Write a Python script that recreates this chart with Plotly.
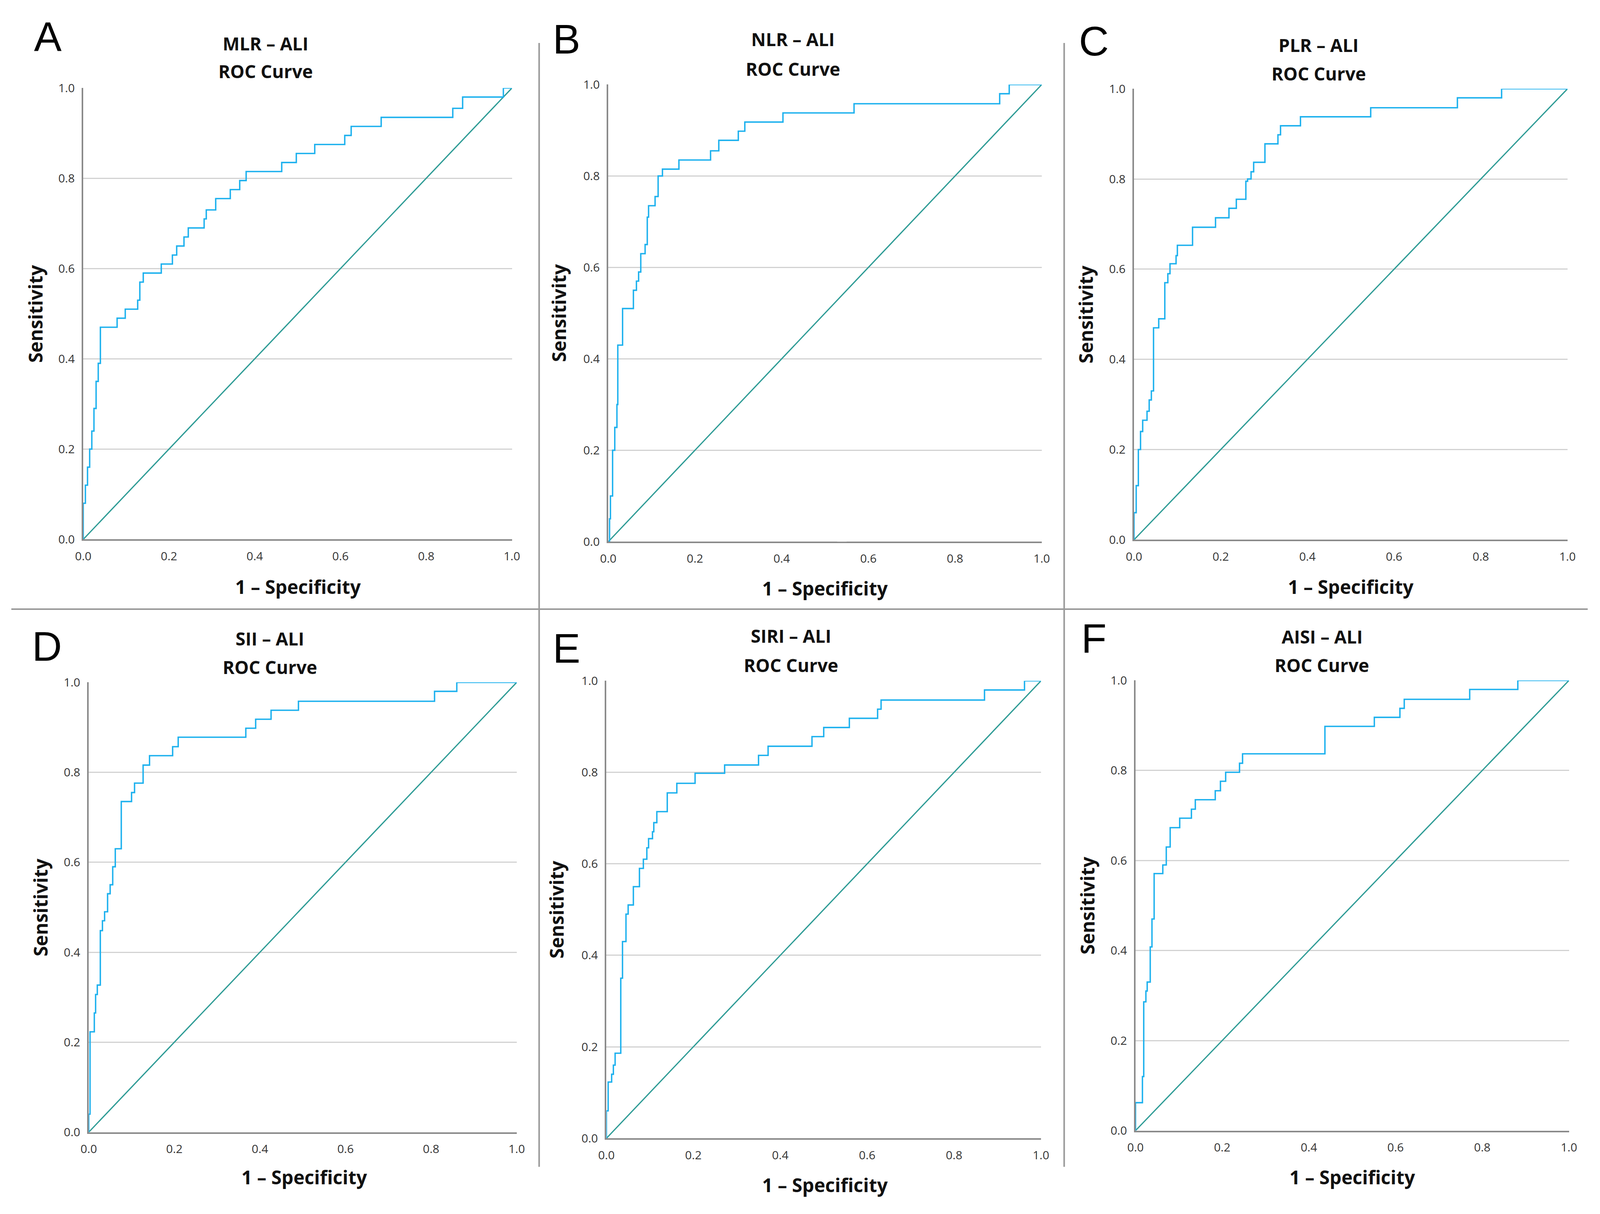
import plotly.graph_objects as go

# reference frame (pixels of the reference picture)
REF_W, REF_H = 4307, 3107
# the page is captured in a viewport about 4096 px wide; keep the figure inside it
VIEW_W = 4096
BODY = 8
W, H = VIEW_W - 2 * BODY, REF_H - 2 * BODY

# ---------------- data ----------------
titles = ["MLR – ALI", "NLR – ALI", "PLR – ALI", "SII – ALI", "SIRI – ALI", "AISI – ALI"]
letters = ["A", "B", "C", "D", "E", "F"]
subtitle = "ROC Curve"
x_title = "1 – Specificity"
y_title = "Sensitivity"
tick_vals = [0.0, 0.2, 0.4, 0.6, 0.8, 1.0]
diag_x = [0.0, 1.0]
diag_y = [0.0, 1.0]

fpr_mlr = [0, 0, 0.005, 0.01, 0.015, 0.02, 0.025, 0.03, 0.035, 0.04, 0.079, 0.098, 0.127, 0.132, 0.14,
           0.182, 0.208, 0.218, 0.235, 0.245, 0.282, 0.287, 0.309, 0.343, 0.365, 0.38, 0.463, 0.497,
           0.54, 0.61, 0.625, 0.695, 0.862, 0.885, 0.98, 1.0]
tpr_mlr = [0, 0.08, 0.12, 0.16, 0.2, 0.24, 0.29, 0.35, 0.39, 0.47, 0.49, 0.51, 0.53, 0.57, 0.59,
           0.61, 0.63, 0.65, 0.67, 0.69, 0.71, 0.73, 0.755, 0.775, 0.795, 0.815, 0.835, 0.855,
           0.875, 0.895, 0.915, 0.935, 0.955, 0.98, 1.0, 1.0]

fpr_nlr = [0, 0.003, 0.005, 0.01, 0.015, 0.02, 0.022, 0.033, 0.058, 0.065, 0.07, 0.075, 0.085, 0.09,
           0.093, 0.108, 0.115, 0.125, 0.163, 0.236, 0.255, 0.3, 0.315, 0.403, 0.567, 0.903, 0.925, 1.0]
tpr_nlr = [0, 0.05, 0.1, 0.2, 0.25, 0.3, 0.43, 0.51, 0.55, 0.57, 0.59, 0.63, 0.65, 0.71,
           0.735, 0.755, 0.80, 0.815, 0.835, 0.855, 0.878, 0.898, 0.918, 0.938, 0.958, 0.98, 1.0, 1.0]

fpr_plr = [0, 0, 0.005, 0.01, 0.015, 0.02, 0.03, 0.035, 0.04, 0.045, 0.057, 0.071, 0.078, 0.083,
           0.097, 0.1, 0.135, 0.188, 0.219, 0.236, 0.258, 0.262, 0.27, 0.276, 0.302, 0.332, 0.338,
           0.384, 0.546, 0.746, 0.848, 1.0]
tpr_plr = [0, 0.06, 0.12, 0.2, 0.24, 0.265, 0.285, 0.31, 0.33, 0.47, 0.49, 0.57, 0.59, 0.612,
           0.63, 0.653, 0.693, 0.714, 0.735, 0.755, 0.795, 0.8, 0.816, 0.837, 0.878, 0.898, 0.918,
           0.938, 0.958, 0.98, 1.0, 1.0]

fpr_sii = [0, 0, 0.003, 0.013, 0.016, 0.02, 0.027, 0.032, 0.037, 0.044, 0.05, 0.056, 0.062, 0.076,
           0.1, 0.107, 0.127, 0.142, 0.196, 0.209, 0.367, 0.39, 0.426, 0.49, 0.808, 0.86, 1.0]
tpr_sii = [0, 0.04, 0.223, 0.265, 0.306, 0.327, 0.448, 0.47, 0.49, 0.53, 0.55, 0.59, 0.63, 0.735,
           0.755, 0.776, 0.816, 0.837, 0.857, 0.878, 0.898, 0.918, 0.938, 0.958, 0.98, 1.0, 1.0]

fpr_siri = [0, 0, 0.004, 0.012, 0.016, 0.02, 0.033, 0.037, 0.045, 0.05, 0.062, 0.076, 0.085, 0.093,
            0.097, 0.106, 0.109, 0.116, 0.14, 0.162, 0.204, 0.272, 0.35, 0.372, 0.473, 0.5, 0.559,
            0.624, 0.632, 0.87, 0.962, 1.0]
tpr_siri = [0, 0.06, 0.123, 0.14, 0.16, 0.186, 0.35, 0.43, 0.49, 0.51, 0.55, 0.59, 0.61, 0.635,
            0.655, 0.67, 0.69, 0.714, 0.755, 0.776, 0.798, 0.816, 0.837, 0.857, 0.878, 0.898, 0.918,
            0.938, 0.958, 0.98, 1.0, 1.0]

fpr_aisi = [0, 0, 0.016, 0.019, 0.024, 0.027, 0.034, 0.038, 0.043, 0.063, 0.071, 0.08, 0.102, 0.129,
            0.138, 0.184, 0.196, 0.208, 0.24, 0.247, 0.437, 0.551, 0.61, 0.62, 0.771, 0.882, 1.0]
tpr_aisi = [0, 0.062, 0.12, 0.286, 0.31, 0.33, 0.408, 0.47, 0.571, 0.59, 0.63, 0.673, 0.694, 0.714,
            0.735, 0.755, 0.776, 0.796, 0.816, 0.837, 0.898, 0.918, 0.938, 0.958, 0.98, 1.0, 1.0]

fprs = [fpr_mlr, fpr_nlr, fpr_plr, fpr_sii, fpr_siri, fpr_aisi]
tprs = [tpr_mlr, tpr_nlr, tpr_plr, tpr_sii, tpr_siri, tpr_aisi]

# ---------------- layout (positions in reference pixels) ----------------
plot_box = [(204, 206, 1370, 1377), (1632, 197, 2811, 1383), (3062, 208, 4241, 1378),
            (219, 1748, 1383, 2915), (1627, 1744, 2809, 2931), (3066, 1743, 4245, 2911)]
title_pos = [(700, 90, 162), (2134, 79, 156), (3564, 94, 168),
             (712, 1634, 1708), (2129, 1627, 1703), (3573, 1629, 1703)]
letter_pos = [(108, 72), (1519, 79), (2953, 84), (106, 1654), (1519, 1659), (2953, 1634)]
xlabel_pos = [(788, 1500), (2222, 1504), (3652, 1500), (805, 3032), (2222, 3052), (3656, 3032)]
ylabel_x = [74, 1497, 2930, 88, 1491, 2935]

ROC_COLOR = "#1DB1EE"
DIAG_COLOR = "#2F9C96"
AXIS_COLOR = "#8A8A8A"
GRID_COLOR = "#D2D2D2"
FONT = "Open Sans"


def px(x):
    return (x / REF_W * VIEW_W - BODY) / W


def py(y):
    return 1 - (y - BODY) / H


fig = go.Figure()
annotations = []
shapes = []

for i in range(6):
    ax = "" if i == 0 else str(i + 1)
    xa, ya = "x" + ax, "y" + ax
    l, t, r, b = plot_box[i]
    fig.add_trace(go.Scatter(x=diag_x, y=diag_y, mode="lines", xaxis=xa, yaxis=ya,
                             line=dict(color=DIAG_COLOR, width=3.2), showlegend=False,
                             hoverinfo="skip"))
    fig.add_trace(go.Scatter(x=fprs[i], y=tprs[i], mode="lines", xaxis=xa, yaxis=ya,
                             line=dict(color=ROC_COLOR, width=3.6, shape="hv"), showlegend=False))
    axis_common = dict(range=[0, 1], showline=True, linecolor=AXIS_COLOR, linewidth=3.5,
                       tickvals=tick_vals, ticktext=[f"{v:.1f}" for v in tick_vals],
                       tickfont=dict(family=FONT, size=30, color="#333333"),
                       ticks="", zeroline=False, fixedrange=True)
    fig.layout["xaxis" + ax] = dict(axis_common, domain=[px(l), px(r)], anchor=ya,
                                    showgrid=False, ticklabelstandoff=14)
    fig.layout["yaxis" + ax] = dict(axis_common, domain=[py(b), py(t)], anchor=xa,
                                    showgrid=True, gridcolor=GRID_COLOR, gridwidth=3,
                                    ticklabelstandoff=12)
    tx, ty1, ty2 = title_pos[i]
    annotations.append(dict(x=px(tx), y=py(ty1), xref="paper", yref="paper", text=f"<b>{titles[i]}</b>",
                            showarrow=False, xanchor="center", yanchor="middle",
                            font=dict(family=FONT, size=46, color="#111111")))
    annotations.append(dict(x=px(tx), y=py(ty2), xref="paper", yref="paper", text=f"<b>{subtitle}</b>",
                            showarrow=False, xanchor="center", yanchor="middle",
                            font=dict(family=FONT, size=46, color="#111111")))
    lx, ly = letter_pos[i]
    annotations.append(dict(x=px(lx), y=py(ly), xref="paper", yref="paper", text=letters[i],
                            showarrow=False, xanchor="center", yanchor="middle",
                            font=dict(family="Liberation Sans", size=106, color="#000000")))
    xx, xy = xlabel_pos[i]
    annotations.append(dict(x=px(xx), y=py(xy), xref="paper", yref="paper", text=f"<b>{x_title}</b>",
                            showarrow=False, xanchor="center", yanchor="middle",
                            font=dict(family=FONT, size=48, color="#111111")))
    annotations.append(dict(x=px(ylabel_x[i]), y=py((t + b) / 2), xref="paper", yref="paper",
                            text=f"<b>{y_title}</b>", textangle=-90,
                            showarrow=False, xanchor="center", yanchor="middle",
                            font=dict(family=FONT, size=48, color="#111111")))

# small gap in the x axis line of panel B
shapes.append(dict(type="line", xref="x2", yref="y2", x0=0.528, x1=0.55, y0=0, y1=0,
                   line=dict(color="white", width=8), layer="above"))

# panel divider lines
DIV = "#9A9A9A"
shapes.append(dict(type="line", xref="paper", yref="paper", x0=0, x1=px(4296), y0=py(1558), y1=py(1558),
                   line=dict(color=DIV, width=4)))
for xv in (1444, 2872):
    shapes.append(dict(type="line", xref="paper", yref="paper", x0=px(xv), x1=px(xv),
                       y0=py(89), y1=py(3005), line=dict(color=DIV, width=4)))

fig.update_layout(width=W, height=H, margin=dict(l=0, r=0, t=0, b=0),
                  paper_bgcolor="white", plot_bgcolor="white",
                  annotations=annotations, shapes=shapes, showlegend=False)

fig.write_html("out.html", config={"displayModeBar": False})
